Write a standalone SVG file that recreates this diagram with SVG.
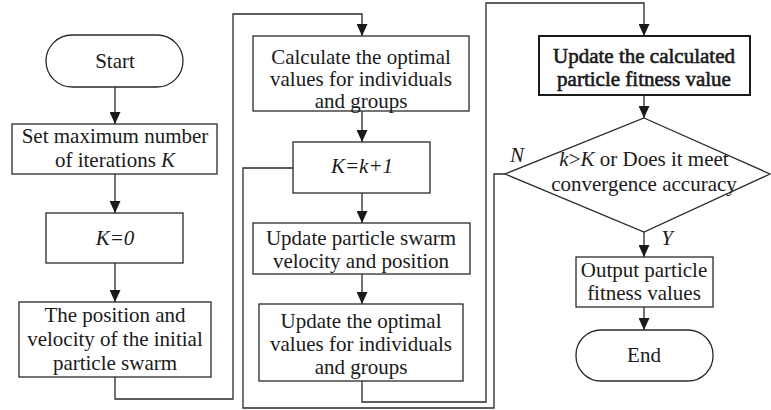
<svg xmlns="http://www.w3.org/2000/svg" width="771" height="410" viewBox="0 0 771 410">
  <style>
    .box { fill: #fff; stroke: #2a2a2a; stroke-width: 1.3; }
    .box-strong { fill: #fff; stroke: #1a1a1a; stroke-width: 2; }
    text { font-family: 'Liberation Serif', 'DejaVu Serif', 'Times New Roman', serif; font-size: 21px; fill: #1a1a1a; text-anchor: middle; }
    .strong { stroke: #1a1a1a; stroke-width: 0.6; }
    .it { font-style: italic; }
    .edge { fill: none; stroke: #2a2a2a; stroke-width: 1.3; }
  </style>
  <defs>
    <marker id="arrow" markerUnits="userSpaceOnUse" markerWidth="12" markerHeight="11" refX="12" refY="5.5" orient="auto">
      <path d="M0,0 L12,5.5 L0,11 z" fill="#1a1a1a"/>
    </marker>
  </defs>
  <rect width="771" height="410" fill="#fff"/>

  <!-- connectors -->
  <g id="connectors">
    <path class="edge" d="M115,87 V124" marker-end="url(#arrow)"/>
    <path class="edge" d="M115,174 V213" marker-end="url(#arrow)"/>
    <path class="edge" d="M115,263 V302" marker-end="url(#arrow)"/>
    <path class="edge" d="M115,377 V399 H233 V14 H362 V36" marker-end="url(#arrow)"/>
    <path class="edge" d="M362,111 V142" marker-end="url(#arrow)"/>
    <path class="edge" d="M362,193 V223" marker-end="url(#arrow)"/>
    <path class="edge" d="M362,274 V304" marker-end="url(#arrow)"/>
    <path class="edge" d="M362,381 V402 H486 V3 H644 V36" marker-end="url(#arrow)"/>
    <path class="edge" d="M644,95 V118" marker-end="url(#arrow)"/>
    <path class="edge" d="M644,232 V257" marker-end="url(#arrow)"/>
    <path class="edge" d="M644,307 V330" marker-end="url(#arrow)"/>
    <path class="edge" d="M505,174 H494 V408 H243 V168 H293"/>
    <text class="it" x="517" y="162" font-family="Liberation Serif">N</text>
    <text class="it" x="667" y="245" font-family="Liberation Serif">Y</text>
  </g>

  <!-- left column -->
  <g id="start" font-family="Liberation Serif">
    <rect class="box" x="46" y="35" width="137" height="52" rx="26" ry="26"/>
    <text x="115" y="68">Start</text>
  </g>
  <g id="set-max">
    <rect class="box" x="12" y="124" width="205" height="50"/>
    <text x="115" y="143">Set maximum number</text>
    <text x="115" y="167">of iterations <tspan class="it">K</tspan></text>
  </g>
  <g id="init-k">
    <rect class="box" x="46" y="213" width="137" height="50"/>
    <text class="it" x="115" y="245">K=0</text>
  </g>
  <g id="init-swarm">
    <rect class="box" x="19" y="302" width="192" height="75"/>
    <text x="115" y="322">The position and</text>
    <text x="115" y="346">velocity of the initial</text>
    <text x="115" y="370">particle swarm</text>
  </g>

  <!-- middle column -->
  <g id="calc-optimal">
    <rect class="box" x="253" y="36" width="216" height="75"/>
    <text x="361" y="64">Calculate the optimal</text>
    <text x="361" y="86">values for individuals</text>
    <text x="361" y="108">and groups</text>
  </g>
  <g id="increment">
    <rect class="box" x="293" y="142" width="137" height="51"/>
    <text class="it" x="362" y="173">K=k+1</text>
  </g>
  <g id="update-swarm">
    <rect class="box" x="253" y="223" width="217" height="51"/>
    <text x="361" y="245">Update particle swarm</text>
    <text x="361" y="268">velocity and position</text>
  </g>
  <g id="update-optimal">
    <rect class="box" x="259" y="304" width="204" height="77"/>
    <text x="361" y="328">Update the optimal</text>
    <text x="361" y="351">values for individuals</text>
    <text x="361" y="374">and groups</text>
  </g>

  <!-- right column -->
  <g id="update-fitness">
    <rect class="box-strong" x="539" y="36" width="211" height="59"/>
    <text class="strong" x="644" y="63">Update the calculated</text>
    <text class="strong" x="644" y="86">particle fitness value</text>
  </g>
  <g id="check">
    <polygon class="box" points="644,118 770,174 644,232 505,174"/>
    <text x="644" y="166"><tspan class="it">k</tspan>&gt;<tspan class="it">K</tspan> or Does it meet</text>
    <text x="644" y="191">convergence accuracy</text>
  </g>
  <g id="output">
    <rect class="box" x="576" y="257" width="137" height="50"/>
    <text x="644" y="277">Output particle</text>
    <text x="644" y="300">fitness values</text>
  </g>
  <g id="end">
    <rect class="box" x="576" y="330" width="137" height="51" rx="25" ry="25"/>
    <text x="644" y="362">End</text>
  </g>
</svg>
